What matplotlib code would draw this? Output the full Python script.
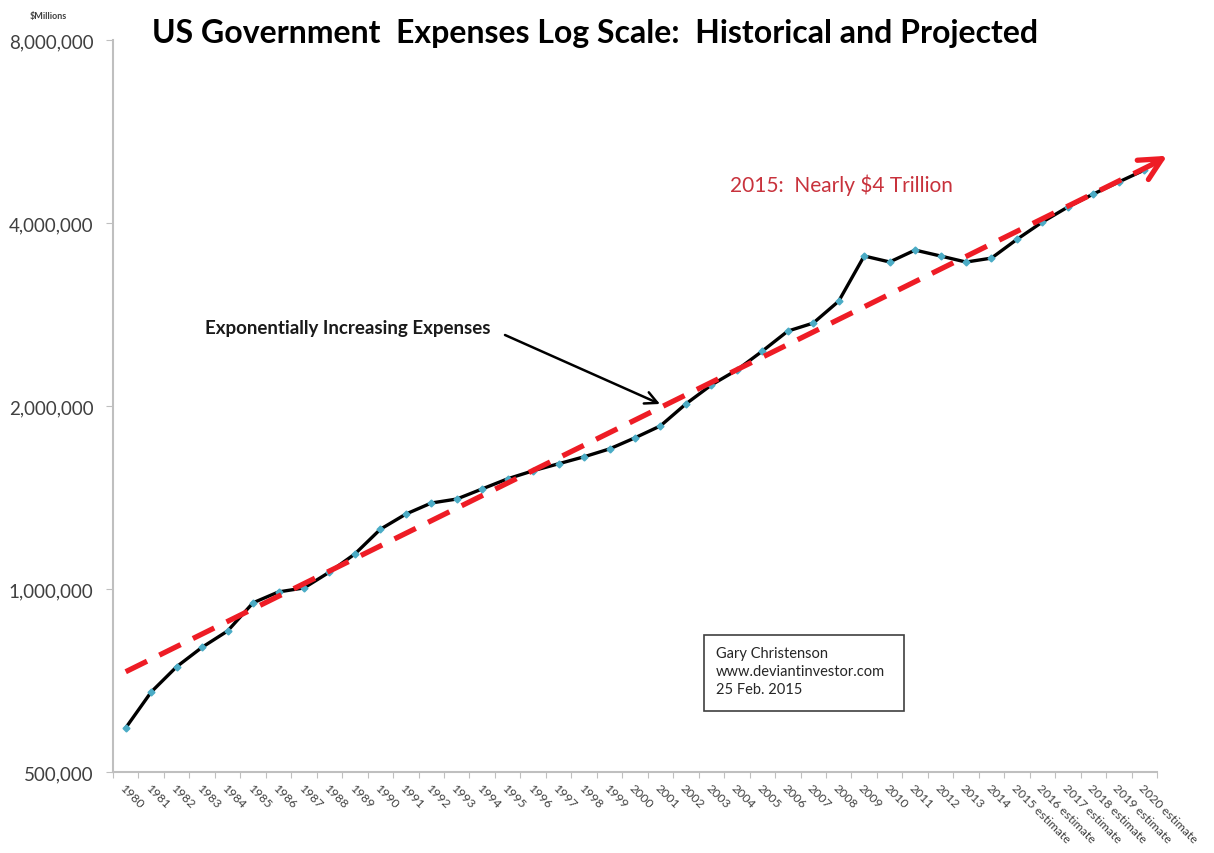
import numpy as np
from matplotlib import pyplot as plt
from matplotlib.ticker import FixedLocator, FuncFormatter

plt.rcParams['font.family'] = ['Lato', 'DejaVu Sans']

# category labels
years = [str(y) for y in range(1980, 2015)] + [str(y) + " estimate" for y in range(2015, 2021)]

# US government expenses, $ millions
expenses = [591000, 677000, 745000, 802000, 853000, 949000, 989000, 1004000,
            1066000, 1142000, 1254000, 1328000, 1385000, 1406000, 1461000,
            1518000, 1565000, 1607000, 1650000, 1700000, 1773000, 1855000,
            2016000, 2166000, 2292000, 2462000, 2656000, 2738000, 2975000,
            3530000, 3451000, 3610000, 3530000, 3450000, 3502000,
            3760000, 4015000, 4250000, 4464000, 4673000, 4888000]

# exponential trend line end points (category index, value)
trend_x = [0, 40.3]
trend_y = [731000, 4990000]
arrow_tip = (40.9, 5160000)

y_ticks = [500000, 1000000, 2000000, 4000000, 8000000]

fig = plt.figure(figsize=(12.14, 8.54), dpi=100)
ax = fig.add_axes([113 / 1214, 81 / 854, 1044 / 1214, 732 / 854])

x = np.arange(len(years))
ax.plot(x, expenses, color='black', lw=2.4, marker='D', markersize=3.5,
        markerfacecolor='#4bacc6', markeredgecolor='#4bacc6', zorder=3)
ax.plot(trend_x, trend_y, color='#ee1c25', lw=3.8, linestyle=(0, (4.5, 2.6)), zorder=4)
ax.annotate('', xy=arrow_tip, xytext=(trend_x[1], trend_y[1]), annotation_clip=False,
            arrowprops=dict(arrowstyle='->', color='#ee1c25', lw=3.8, mutation_scale=40,
                            shrinkA=0, shrinkB=0), zorder=5)

ax.set_yscale('log')
ax.set_ylim(500000, 8000000)
ax.set_xlim(-0.5, len(years) - 0.5)
ax.yaxis.set_major_locator(FixedLocator(y_ticks))
ax.yaxis.set_minor_locator(FixedLocator([]))
ax.yaxis.set_major_formatter(FuncFormatter(lambda v, p: f"{int(v):,}"))
ax.tick_params(axis='y', labelsize=13.5, colors='#404040', length=5, width=0.8, pad=9)

ax.set_xticks(x)
ax.set_xticklabels(years, rotation=-45, ha='left', va='top', rotation_mode='anchor',
                   fontsize=8.8, color='#404040')
ax.set_xticks(np.arange(-0.5, len(years)), minor=True)
ax.tick_params(axis='x', which='major', length=0, pad=7)
ax.tick_params(axis='x', which='minor', length=4, width=0.8, color='#bfbfbf')
ax.tick_params(axis='y', color='#bfbfbf')

for s in ['top', 'right']:
    ax.spines[s].set_visible(False)
for s in ['left', 'bottom']:
    ax.spines[s].set_color('#bfbfbf')
    ax.spines[s].set_linewidth(1.5)

fig.text(595 / 1214, 1 - 33 / 854, "US Government  Expenses Log Scale:  Historical and Projected",
         ha='center', va='center', fontsize=23, fontweight='bold', color='black')
fig.text(48 / 1214, 1 - 17 / 854, "$Millions", ha='center', va='center',
         fontsize=6.5, fontweight='bold', color='#404040')
fig.text(730 / 1214, 1 - 185 / 854, "2015:  Nearly $4 Trillion", ha='left', va='center',
         fontsize=15, color='#c8323c')
fig.text(205 / 1214, 1 - 329 / 854, "Exponentially Increasing Expenses", ha='left', va='center',
         fontsize=13.5, fontweight='bold', color='#1a1a1a')
ax.annotate('', xy=(660 / 1214, 1 - 405 / 854), xytext=(505 / 1214, 1 - 336 / 854),
            xycoords='figure fraction', textcoords='figure fraction',
            arrowprops=dict(arrowstyle='->', color='black', lw=1.8, mutation_scale=22,
                            shrinkA=0, shrinkB=0))
fig.text(716 / 1214, 1 - 672 / 854, "Gary Christenson\nwww.deviantinvestor.com\n25 Feb. 2015",
         ha='left', va='center', fontsize=10.5, color='#262626', linespacing=1.35)
fig.patches.append(plt.Rectangle((704 / 1214, 1 - 712 / 854), 200 / 1214, 76 / 854,
                                 transform=fig.transFigure, fill=False,
                                 edgecolor='#404040', lw=1.2))

fig.savefig('out.png', dpi=100)
